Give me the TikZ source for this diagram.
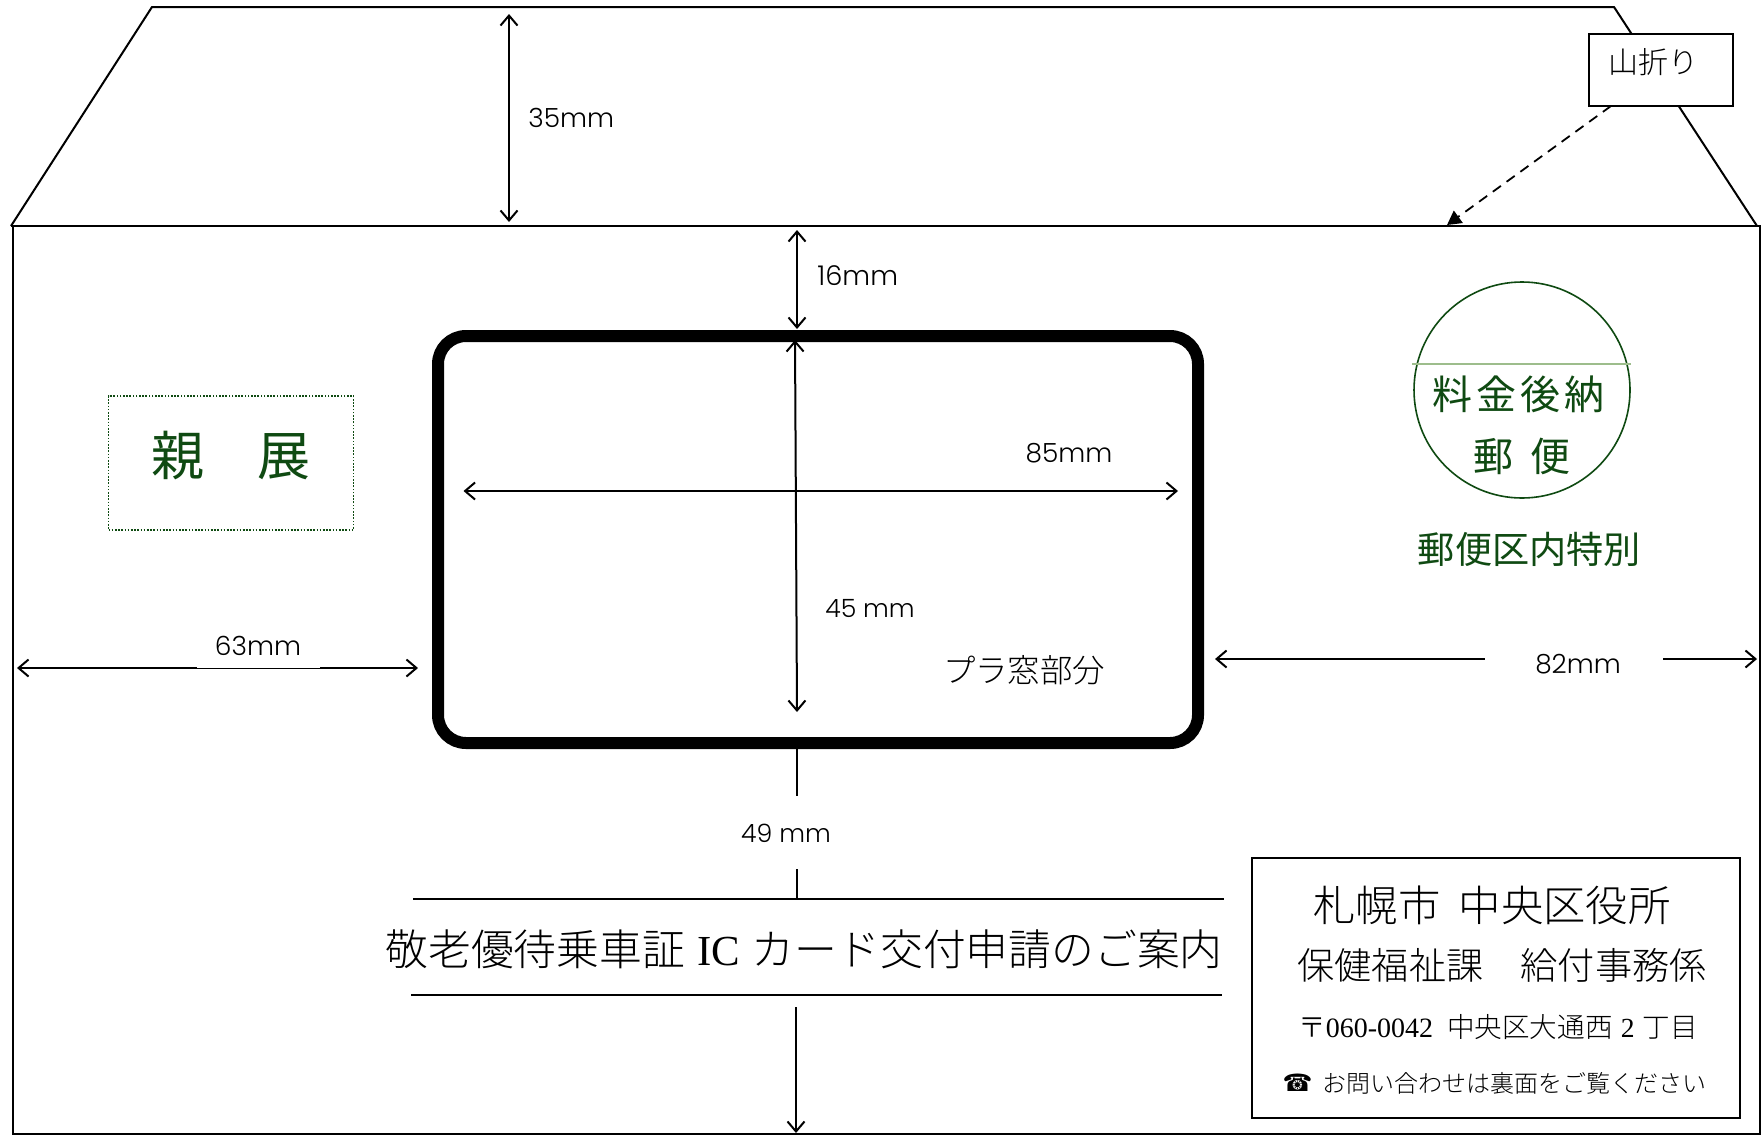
\documentclass[tikz,border=0pt]{standalone}
\usepackage{fontspec}
\usetikzlibrary{arrows.meta}
\setmainfont{Poppins Light}
\newfontfamily\jp{Noto Sans CJK JP Light}
\newfontfamily\jpr{Noto Sans CJK JP}
\newfontfamily\ser{Liberation Serif}
\newfontfamily\dej{DejaVu Sans}
\definecolor{stamp}{HTML}{0F4A12}
\definecolor{stampline}{HTML}{9DBD8C}
\tikzset{
  x=0.5pt,y=-0.5pt,
  >={Straight Barb[length=5pt,width=8.5pt,line width=1pt]},
  outline/.style={line width=1pt,draw=black,line join=miter},
  dimline/.style={<->,line width=1pt},
  plainline/.style={line width=0.8pt},
  rulex/.style={line width=1pt},
  lab/.style={inner sep=0pt,font=\fontsize{13.2}{16}\selectfont},
  narrowlab/.style={inner sep=0pt,font=\fontsize{12.6}{16}\selectfont},
  jplab/.style={inner sep=0pt,text=black},
  green/.style={inner sep=0pt,text=stamp},
  maskgap/.style={fill=white,inner sep=0pt},
  boxed/.style={draw=black,line width=1pt,fill=white,inner sep=0pt},
}
\begin{document}
\begin{tikzpicture}
\useasboundingbox (0,0) rectangle (1764,1135);
\fill[white] (0,0) rectangle (1764,1135);
% envelope
\coordinate (fl) at (11,226);
\coordinate (ftl) at (152,7);
\coordinate (ftr) at (1614,7);
\coordinate (fr) at (1757,226);
\draw[outline] (fl) -- (ftl) -- (ftr) -- (fr);
\draw[outline] (fl) -- (1760,226) -- (1760,1134) -- (13,1134) -- (13,226);
% fold label
\node[boxed,minimum width=72pt,minimum height=36pt] (fold) at (1661,70) {};
\node[jplab,font=\jp\fontsize{15}{17}\selectfont] (foldt) at (1653,62) {山折り};
\coordinate (foldout) at (1611,106);
\coordinate (foldin) at (1447,225);
\draw[line width=0.9pt,dash pattern=on 5pt off 3.5pt,-{Triangle[length=7pt,width=7.5pt]}] (foldout) -- (foldin);
% window
\node[draw=black,line width=6pt,rounded corners=14pt,minimum width=380pt,minimum height=203.5pt,inner sep=0pt] (pane) at (818,539.5) {};
% dimensions
\coordinate (a1) at (509,14); \coordinate (a2) at (509,222);
\draw[dimline] (a1) -- (a2);
\node[lab,anchor=west] (d35) at (528,118) {35mm};
\coordinate (b1) at (797,230); \coordinate (b2) at (797,329);
\draw[dimline] (b1) -- (b2);
\node[lab,anchor=west,font=\fontsize{13.6}{16}\selectfont] (d16) at (817,276) {16mm};
\coordinate (c1) at (795,340); \coordinate (c2) at (797,712);
\draw[dimline] (c1) -- (c2);
\node[narrowlab] (d45) at (870,608) {45 mm};
\coordinate (e1) at (463.5,491); \coordinate (e2) at (1178,491);
\draw[dimline] (e1) -- (e2);
\node[lab] (d85) at (1069,453) {85mm};
\coordinate (g1) at (17,668); \coordinate (g2) at (418,668);
\draw[dimline] (g1) -- (g2);
\path[maskgap] (197,630) rectangle (320,667.6);
\node[lab] (d63) at (258,646) {63mm};
\coordinate (h1) at (1215,659); \coordinate (h2) at (1757,659);
\draw[dimline] (h1) -- (h2);
\path[maskgap] (1485,640) rectangle (1663,680);
\node[lab] (d82) at (1578,664) {82mm};
\coordinate (i1) at (797,749); \coordinate (i2) at (797,796);
\draw[plainline] (i1) -- (i2);
\node[narrowlab] (d49) at (786,833) {49 mm};
\coordinate (i3) at (797,869); \coordinate (i4) at (797,900);
\draw[plainline] (i3) -- (i4);
\coordinate (i5) at (796,1007); \coordinate (i6) at (796,1133);
\draw[line width=0.8pt,->] (i5) -- (i6);
\node[jplab,font=\jp\fontsize{16.2}{18}\selectfont] (window) at (1024,670) {プラ窓部分};
% private mark
\node[draw=stamp,line width=0.8pt,dash pattern=on 0.8pt off 0.8pt,minimum width=122.5pt,minimum height=67pt,inner sep=0pt] (priv) at (231,463) {};
\node[green,font=\jpr\fontsize{26.5}{30}\selectfont] (oyaten) at (231,456) {親　展};
% stamp
\node[draw=stamp,line width=0.8pt,circle,minimum size=108pt,inner sep=0pt] (circ) at (1522,390) {};
\coordinate (sl1) at (1412,364); \coordinate (sl2) at (1631,364);
\draw[stampline,line width=0.8pt] (sl1) -- (sl2);
\node[green,font=\jpr\fontsize{20}{24}\selectfont] (st1) at (1518,394) {料\hspace{2pt}金\hspace{2pt}後\hspace{2pt}納};
\node[green,font=\jpr\fontsize{20}{24}\selectfont] (st2) at (1522,456) {郵\hspace{8.5pt}便};
\node[green,font=\jpr\fontsize{18.6}{22}\selectfont] (st3) at (1529.5,549) {郵便区内特別};
% title
\coordinate (r1a) at (413,898.5); \coordinate (r1b) at (1224,898.5);
\coordinate (r2a) at (411,994.5); \coordinate (r2b) at (1222,994.5);
\draw[rulex] (r1a) -- (r1b);
\draw[rulex] (r2a) -- (r2b);
\node[jplab,font=\jp\fontsize{21.4}{25}\selectfont] (title) at (804,949) {敬老優待乗車証\hspace{6pt}{\ser IC}\hspace{6pt}カード交付申請のご案内};
% address
\node[boxed,minimum width=244pt,minimum height=130pt] (addr) at (1496,988) {};
\node[jplab,font=\jp\fontsize{21.2}{24}\selectfont] (ad1) at (1492,905) {札幌市\hspace{9pt}中央区役所};
\node[jplab,font=\jp\fontsize{18.6}{22}\selectfont] (ad2) at (1502,965) {保健福祉課　給付事務係};
\node[jplab,font=\jp\fontsize{13.8}{16}\selectfont] (ad3) at (1498,1027) {〒{\ser\fontsize{14}{16}\selectfont 060-0042}\hspace{7pt}中央区大通西\hspace{4pt}{\ser 2}\hspace{4pt}丁目};
\node[jplab,font=\dej\fontsize{12}{14}\selectfont,text=black] (tel) at (1297.5,1083) {☎};
\node[jplab,font=\jp\fontsize{12}{14}\selectfont] (ad4) at (1514,1083) {お問い合わせは裏面をご覧ください};
\end{tikzpicture}
\end{document}
